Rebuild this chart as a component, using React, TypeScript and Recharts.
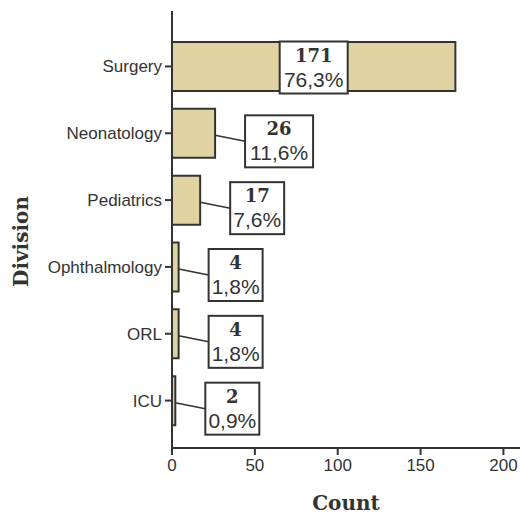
import React from 'react';
import { BarChart, Bar, XAxis, YAxis, LabelList } from 'recharts';

const divisions = ['Surgery', 'Neonatology', 'Pediatrics', 'Ophthalmology', 'ORL', 'ICU'];
const counts = [171, 26, 17, 4, 4, 2];
const percents = ['76,3%', '11,6%', '7,6%', '1,8%', '1,8%', '0,9%'];
const countTicks = [0, 50, 100, 150, 200];

const data = divisions.map((name, i) => ({ name, count: counts[i], pct: percents[i] }));

const INK = '#333333';

const BoxLabel = (props: any) => {
  const { x, y, width, height, index } = props;
  const count = counts[index];
  const pct = percents[index];
  const bx = Number(x), by = Number(y), bw = Number(width), bh = Number(height);
  const boxW = 14 * pct.length - 2;
  const boxH = 52;
  const barEnd = bx + bw;
  const cy = by + bh / 2;
  let left: number, top: number;
  let leader: React.ReactNode = null;
  if (bw > 150) {
    left = bx + bw / 2 - boxW / 2;
    top = cy - boxH / 2 + 1;
  } else {
    left = barEnd + 30;
    top = cy + 8 - boxH / 2;
    leader = (
      <line x1={barEnd} y1={cy + 2} x2={left} y2={top + boxH / 2} stroke={INK} strokeWidth={1.6} />
    );
  }
  const mid = left + boxW / 2;
  return (
    <g>
      {leader}
      <rect x={left} y={top} width={boxW} height={boxH} fill="#ffffff" stroke={INK} strokeWidth={2} />
      <text x={mid} y={top + 20} textAnchor="middle" fontFamily="DejaVu Serif" fontWeight="bold" fontSize={18} fill={INK}>
        {count}
      </text>
      <text x={mid} y={top + 45} textAnchor="middle" fontFamily="Liberation Sans" fontSize={21} fill={INK}>
        {pct}
      </text>
    </g>
  );
};

const DivisionLabel = (props: any) => {
  const vb = props.viewBox || {};
  const x = (vb.x ?? 0) + 22;
  const y = (vb.y ?? 0) + (vb.height ?? 0) / 2 + 12;
  return (
    <text x={x} y={y} transform={`rotate(-90 ${x} ${y})`} textAnchor="middle" dominantBaseline="middle"
      fontFamily="DejaVu Serif" fontWeight="bold" fontSize={20} fill={INK}>
      Division
    </text>
  );
};

export default function App() {
  return (
    <div style={{ position: 'absolute', left: 0, top: 0, width: 520, height: 515, background: '#fff' }}>
      <BarChart
        width={520}
        height={515}
        layout="vertical"
        data={data}
        margin={{ top: 11, right: 0, bottom: 0, left: 0 }}
        barCategoryGap={9}
      >
        <XAxis
          type="number"
          domain={[0, 210]}
          ticks={countTicks}
          allowDataOverflow
          height={67}
          tickSize={7}
          tickMargin={4}
          axisLine={{ stroke: INK, strokeWidth: 2 }}
          tickLine={{ stroke: INK, strokeWidth: 2 }}
          tick={{ fill: INK, fontFamily: 'Liberation Sans', fontSize: 17 }}
          label={{ value: 'Count', position: 'insideBottom', offset: 5, style: { fontFamily: 'DejaVu Serif', fontWeight: 'bold', fontSize: 20, fill: INK } }}
        />
        <XAxis
          xAxisId="top"
          orientation="top"
          type="number"
          domain={[0, 210]}
          height={0}
          tick={false}
          tickLine={false}
          axisLine={{ stroke: INK, strokeWidth: 2 }}
        />
        <YAxis
          type="category"
          dataKey="name"
          width={172}
          padding={{ top: 22, bottom: 14 }}
          tickSize={7}
          tickMargin={3}
          axisLine={{ stroke: INK, strokeWidth: 2 }}
          tickLine={{ stroke: INK, strokeWidth: 2 }}
          tick={{ fill: INK, fontFamily: 'Liberation Sans', fontSize: 17 }}
          label={<DivisionLabel />}
        />
        <Bar dataKey="count" fill="#e0d3a1" stroke={INK} strokeWidth={2} isAnimationActive={false}>
          <LabelList dataKey="count" content={<BoxLabel />} />
        </Bar>
      </BarChart>
    </div>
  );
}
